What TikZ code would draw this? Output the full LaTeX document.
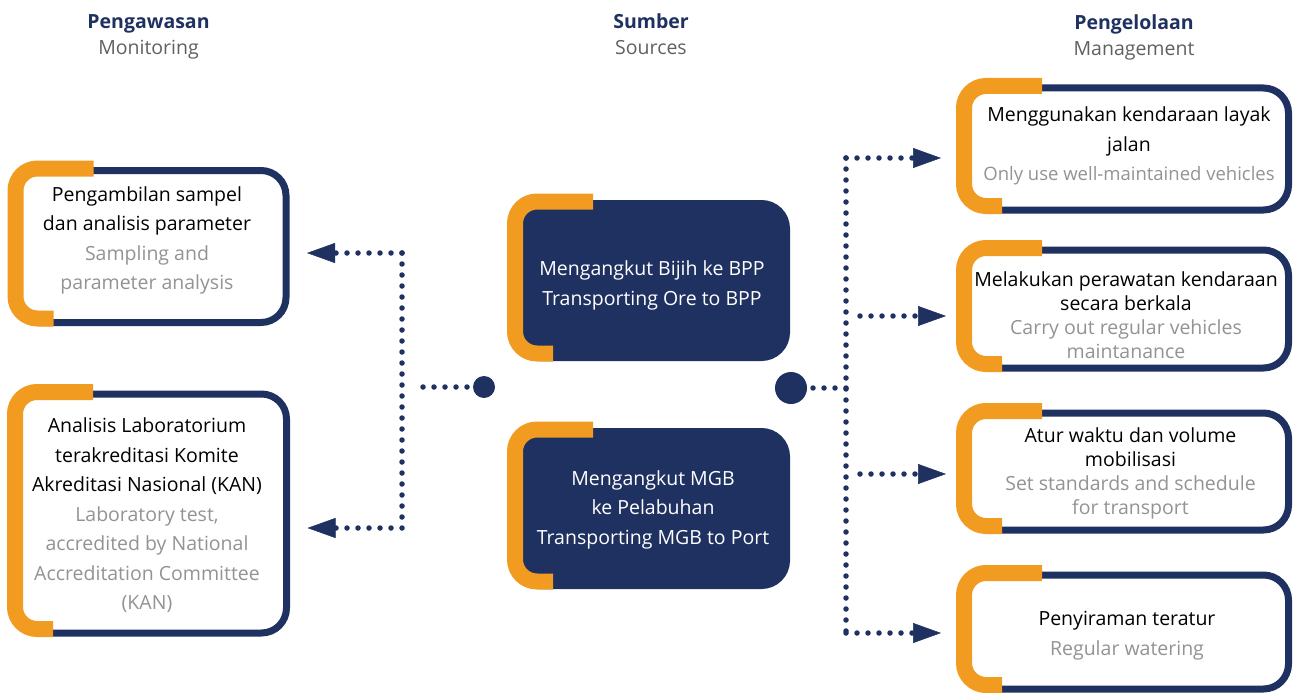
\documentclass[tikz,border=0pt]{standalone}
\usepackage{fontspec}
\setmainfont{Open Sans}
\usepackage{tikz}
\usetikzlibrary{arrows.meta}

\definecolor{navy}{HTML}{1F3160}
\definecolor{amber}{HTML}{F29B21}
\definecolor{engray}{HTML}{939393}
\definecolor{hdgray}{HTML}{606060}

\begin{document}
\begin{tikzpicture}[x=1pt,y=-1pt,
  outbox/.style={shape=rectangle,draw=navy,fill=white,line width=7pt,rounded corners=25pt,outer sep=0pt},
  srcbox/.style={shape=rectangle,draw=navy,fill=navy,line width=7pt,rounded corners=25pt,outer sep=0pt},
  amberbar/.style={draw=amber,line width=16pt,rounded corners=22pt},
  boxtxt/.style={align=center,inner sep=0pt,font=\fontsize{19.5}{29.5}\selectfont},
  tighttxt/.style={boxtxt,font=\fontsize{19.5}{24}\selectfont},
  headtxt/.style={align=center,inner sep=0pt,font=\fontsize{19.5}{26}\selectfont},
  dotline/.style={navy,line width=5.5pt,line cap=round,dash pattern=on 0pt off 11pt},
  arrowtip/.style={-{Triangle[length=28pt,width=20pt,line width=0.5pt]}}]
  \useasboundingbox (0,0) rectangle (1294,693);

  % headers
  \node (hmon) at (148.5,37) [headtxt] {\textbf{\color{navy}Pengawasan}\\\color{hdgray}Monitoring};
  \node (hsrc) at (651,34) [headtxt] {\textbf{\color{navy}Sumber}\\\color{hdgray}Sources};
  \node (hman) at (1134,37) [headtxt] {\textbf{\color{navy}Pengelolaan}\\\color{hdgray}Management};

  % boxes
  \node (l1) at (150.75,246.5) [outbox, minimum width=270.5pt, minimum height=152pt] {};
  \node (l2) at (150.75,513.5) [outbox, minimum width=271.5pt, minimum height=239pt] {};
  \node (c1) at (650.75,280.5) [srcbox, minimum width=271.5pt, minimum height=154pt] {};
  \node (c2) at (650.75,508.5) [srcbox, minimum width=271.5pt, minimum height=154pt] {};
  \node (r1) at (1126.25,149) [outbox, minimum width=324.5pt, minimum height=122pt] {};
  \node (r2) at (1126.25,309) [outbox, minimum width=324.5pt, minimum height=118pt] {};
  \node (r3) at (1126.25,471.5) [outbox, minimum width=324.5pt, minimum height=117pt] {};
  \node (r4) at (1126.25,632) [outbox, minimum width=324.5pt, minimum height=114pt] {};

  \foreach \b in {l1,l2,c1,c2,r1,r2,r3,r4}
    \draw [amberbar] ([xshift=78pt,yshift=2pt]\b.north west) -- ([yshift=2pt]\b.north west)
      -- ([yshift=4pt]\b.south west) -- ([xshift=38pt,yshift=4pt]\b.south west);

  % texts
  \node (l1t) at (147,240.5) [boxtxt] {Pengambilan sampel\\dan analisis parameter\\\color{engray}Sampling and\\\color{engray}parameter analysis};
  \node (l2t) at (147,515.5) [boxtxt] {Analisis Laboratorium\\terakreditasi Komite\\Akreditasi Nasional (KAN)\\\color{engray}Laboratory test,\\\color{engray}accredited by National\\\color{engray}Accreditation Committee\\\color{engray}(KAN)};
  \node (c1t) at (652,285.5) [boxtxt, text=white] {Mengangkut Bijih ke BPP\\Transporting Ore to BPP};
  \node (c2t) at (653,509.5) [boxtxt, text=white] {Mengangkut MGB\\ke Pelabuhan\\Transporting MGB to Port};
  \node (r1t) at (1129,146) [boxtxt] {Menggunakan kendaraan layak\\jalan\\\color{engray}\fontsize{18.5}{29.5}\selectfont Only use well-maintained vehicles};
  \node (r2t) at (1126,315) [tighttxt] {Melakukan perawatan kendaraan\\secara berkala\\\color{engray}Carry out regular vehicles\\\color{engray}maintanance};
  \node (r3t) at (1130.5,473) [tighttxt] {Atur waktu dan volume\\mobilisasi\\\color{engray}Set standards and schedule\\\color{engray}for transport};
  \node (r4t) at (1127,635.5) [boxtxt] {Penyiraman teratur\\\color{engray}Regular watering};

  % left connectors
  \node (ldot) at (484,387) [shape=circle, fill=navy, minimum size=22pt, inner sep=0pt] {};
  \coordinate (lstub) at (423,387);
  \coordinate (ltop) at (402,253);
  \coordinate (lbot) at (402,528);
  \draw [dotline] (lstub) -- (ldot);
  \draw [dotline] (ltop) -- (lbot);
  \draw [dotline, arrowtip, shorten >=21pt] (ltop) -- (ltop -| l1.east);
  \draw [dotline, arrowtip, shorten >=21pt] (lbot) -- (lbot -| l2.east);

  % right connectors
  \node (rdot) at (791,388) [shape=circle, fill=navy, minimum size=32pt, inner sep=0pt] {};
  \coordinate (rmid) at (846,388);
  \coordinate (rtop) at (846,158);
  \coordinate (rbot) at (846,633);
  \coordinate (r2in) at (860,316);
  \coordinate (r3in) at (860,474);
  \draw [dotline] (rmid) -- (rdot);
  \draw [dotline] (rtop) -- (rbot);
  \draw [dotline, arrowtip, shorten >=23pt] (rtop) -- (rtop -| r1.west);
  \draw [dotline, arrowtip, shorten >=18pt] (r2in) -- (r2in -| r2.west);
  \draw [dotline, arrowtip, shorten >=18pt] (r3in) -- (r3in -| r3.west);
  \draw [dotline, arrowtip, shorten >=23pt] (rbot) -- (rbot -| r4.west);
\end{tikzpicture}
\end{document}
